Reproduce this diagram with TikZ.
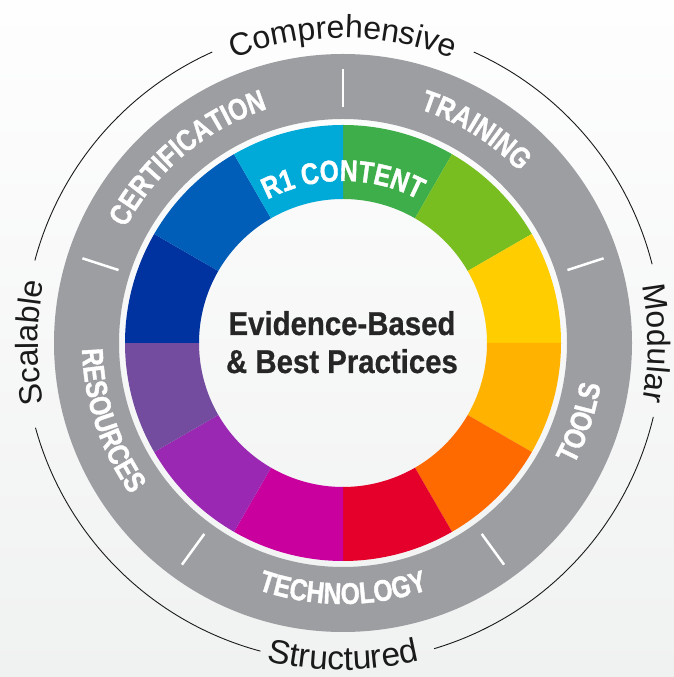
\documentclass[tikz,border=0pt]{standalone}
\usepackage{fontspec}
\setmainfont{Liberation Sans}
\newfontfamily\condbold[FakeStretch=0.82,FakeBold=1.2]{Liberation Sans Bold}
\newfontfamily\titlefont[FakeStretch=0.89,FakeBold=0.6]{Liberation Sans Bold}
\usetikzlibrary{decorations.text}
\definecolor{segA}{HTML}{3DAE49}
\definecolor{segB}{HTML}{78BE20}
\definecolor{segC}{HTML}{FFCD00}
\definecolor{segD}{HTML}{FFB300}
\definecolor{segE}{HTML}{FF6A00}
\definecolor{segF}{HTML}{E4002B}
\definecolor{segG}{HTML}{C9009E}
\definecolor{segH}{HTML}{9A28B3}
\definecolor{segI}{HTML}{734C9F}
\definecolor{segJ}{HTML}{0033A0}
\definecolor{segK}{HTML}{005EB8}
\definecolor{segL}{HTML}{00AAD8}
\definecolor{ringgray}{HTML}{9D9EA2}
\definecolor{bgtop}{HTML}{FEFEFE}
\definecolor{bgbottom}{HTML}{F0F1F1}
\definecolor{titletext}{HTML}{262626}
\definecolor{outertext}{HTML}{1A1A1A}
\newcommand\ringfnt{\condbold\fontsize{30}{30}\selectfont}
\newcommand\outerfnt{\fontsize{32}{32}\selectfont}
\newcommand\outerwide{\fontsize{33.5}{33.5}\selectfont}
\tikzset{
  ringlabel/.style={decorate, decoration={text along path, text align=center, text color=white}},
  outerlabel/.style={decorate, decoration={text along path, text align=center, text color=outertext}},
  tickmark/.style={white, line width=2.5pt},
  thinring/.style={outertext, line width=0.9pt},
  titleline/.style={font=\titlefont\fontsize{33}{38}\selectfont, text=titletext, anchor=base, inner sep=0pt}
}
\begin{document}
\begin{tikzpicture}[x=1pt,y=1pt]
\useasboundingbox (0,0) rectangle (674,677);
\shade[top color=bgtop, bottom color=bgbottom] (0,0) rectangle (674,677);
\coordinate (C) at (343,334);
\begin{scope}[shift={(343,334)}]
  % gray ring
  \fill[ringgray, even odd rule] (0,0) circle[radius=289] (0,0) circle[radius=224];
  % colour segments
  \foreach \col [count=\i from 0] in {segA,segB,segC,segD,segE,segF,segG,segH,segI,segJ,segK,segL}{
    \pgfmathsetmacro\aone{90-30*\i}
    \pgfmathsetmacro\atwo{60-30*\i}
    \fill[\col] (\aone:144) arc[start angle=\aone, end angle=\atwo, radius=144]
      -- (\atwo:218) arc[start angle=\atwo, end angle=\aone, radius=218] -- cycle;
  }
  % ticks in the gray ring
  \foreach \a in {90,18,-54,-126,162}{
    \draw[tickmark] (\a:236) -- (\a:274);
  }
  % thin outer circle arcs
  \draw[thinring] (14.3:319) arc[start angle=14.3, end angle=65.8, radius=319];
  \draw[thinring] (114.2:319) arc[start angle=114.2, end angle=165, radius=319];
  \draw[thinring] (195.4:319) arc[start angle=195.4, end angle=255, radius=319];
  \draw[thinring] (286.6:319) arc[start angle=286.6, end angle=346.6, radius=319];
  % ring labels (top: clockwise, bottom: counter-clockwise)
  \path[ringlabel, decoration={text={|\ringfnt|TRAINING}}]
    (108:246) arc[start angle=108, end angle=8, radius=246];
  \path[ringlabel, decoration={text={|\ringfnt|CERTIFICATION}}]
    (185:246) arc[start angle=185, end angle=75, radius=246];
  \path[ringlabel, decoration={text={|\ringfnt|R1 CONTENT}}]
    (145:162) arc[start angle=145, end angle=35, radius=162];
  \path[ringlabel, decoration={text={|\ringfnt|TOOLS}}]
    (-68.5:261) arc[start angle=-68.5, end angle=31.5, radius=261];
  \path[ringlabel, decoration={text={|\ringfnt|TECHNOLOGY}}]
    (-140:261) arc[start angle=-140, end angle=-40, radius=261];
  \path[ringlabel, decoration={text={|\ringfnt|RESOURCES}}]
    (148.4:261) arc[start angle=148.4, end angle=248.4, radius=261];
  % outer labels
  \path[outerlabel, decoration={text={|\outerfnt|Comprehensive}}]
    (140:305) arc[start angle=140, end angle=40, radius=305];
  \path[outerlabel, decoration={text={|\outerfnt|Modular}}]
    (45:305) arc[start angle=45, end angle=-45, radius=305];
  \path[outerlabel, decoration={text={|\outerfnt|Scalable}}]
    (225:305) arc[start angle=225, end angle=135, radius=305];
  \path[outerlabel, decoration={text={|\outerwide|Structured}}]
    (-135:327) arc[start angle=-135, end angle=-45, radius=327];
\end{scope}
\node[titleline] (titleA) at (342,342) {Evidence-Based};
\node[titleline] (titleB) at (342,304) {\& Best Practices};
\end{tikzpicture}
\end{document}
